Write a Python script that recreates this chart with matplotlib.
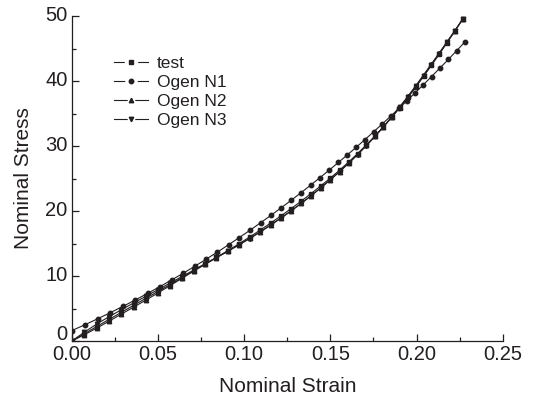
import matplotlib
matplotlib.use("Agg")
import matplotlib.pyplot as plt
import matplotlib.transforms as mtransforms
from matplotlib.lines import Line2D
from matplotlib.ticker import MultipleLocator, FormatStrFormatter

plt.rcParams['font.family'] = ['Liberation Sans', 'DejaVu Sans']

ink = '#231f20'

# strain / stress
strain_test = [0, 0.0072, 0.0144, 0.0216, 0.0288, 0.0359, 0.0430, 0.0500, 0.0569, 0.0638,
               0.0706, 0.0773, 0.0839, 0.0904, 0.0968, 0.1031, 0.1093, 0.1154, 0.1214, 0.1273,
               0.1331, 0.1388, 0.1444, 0.1499, 0.1553, 0.1606, 0.1658, 0.1709, 0.1759, 0.1808,
               0.1856, 0.1903, 0.1950, 0.1996, 0.2041, 0.2086, 0.2131, 0.2176, 0.2222, 0.2268]
stress_test = [0, 1.11, 2.22, 3.32, 4.42, 5.50, 6.57, 7.63, 8.67, 9.72,
               10.77, 11.81, 12.85, 13.89, 14.93, 15.99, 17.07, 18.16, 19.26, 20.38,
               21.52, 22.68, 23.86, 25.05, 26.27, 27.54, 28.84, 30.18, 31.56, 32.96,
               34.40, 35.90, 37.47, 39.08, 40.72, 42.39, 44.10, 45.85, 47.68, 49.54]
stress_n2 = [0, 0.95, 1.98, 3.05, 4.15, 5.22, 6.30, 7.40, 8.50, 9.62,
             10.74, 11.80, 12.80, 13.78, 14.78, 15.78, 16.82, 17.88, 18.96, 20.06,
             21.20, 22.36, 23.56, 24.80, 26.06, 27.36, 28.70, 30.08, 31.50, 32.98,
             34.50, 36.06, 37.66, 39.30, 40.96, 42.62, 44.30, 46.00, 47.74, 49.50]
stress_n3 = [0, 1.35, 2.60, 3.74, 4.82, 5.86, 6.88, 7.90, 8.90, 9.90,
             10.90, 11.90, 12.86, 13.80, 14.76, 15.74, 16.76, 17.82, 18.90, 20.02,
             21.16, 22.34, 23.55, 24.78, 26.04, 27.34, 28.68, 30.06, 31.48, 32.94,
             34.44, 35.98, 37.56, 39.18, 40.84, 42.52, 44.22, 45.96, 47.74, 49.56]

strain_n1 = [0, 0.0075, 0.0150, 0.0224, 0.0297, 0.0369, 0.0440, 0.0510, 0.0579, 0.0647,
             0.0714, 0.0780, 0.0845, 0.0909, 0.0972, 0.1034, 0.1095, 0.1155, 0.1214, 0.1272,
             0.1329, 0.1385, 0.1440, 0.1494, 0.1547, 0.1599, 0.1650, 0.1701, 0.1751, 0.1800,
             0.1849, 0.1897, 0.1945, 0.1993, 0.2040, 0.2087, 0.2134, 0.2185, 0.2233, 0.2280]
stress_n1 = [1.60, 2.49, 3.42, 4.37, 5.33, 6.32, 7.33, 8.35, 9.39, 10.44,
             11.51, 12.60, 13.69, 14.80, 15.92, 17.05, 18.19, 19.33, 20.48, 21.64,
             22.80, 23.97, 25.14, 26.31, 27.48, 28.65, 29.81, 31.00, 32.19, 33.37,
             34.57, 35.77, 36.98, 38.21, 39.44, 40.69, 41.95, 43.34, 44.68, 46.00]

labels = ['test', 'Ogen N1', 'Ogen N2', 'Ogen N3']
markers = ['s', 'o', '^', 'v']
yticks = [0, 10, 20, 30, 40, 50]

fig = plt.figure(figsize=(5.36, 4.0), dpi=100)
ax = fig.add_axes([0.134, 0.1475, 0.804, 0.8125])

series = [(strain_test, stress_test), (strain_n1, stress_n1),
          (strain_test, stress_n2), (strain_test, stress_n3)]
for (x, y), m in zip(series, markers):
    ax.plot(x, y, color=ink, lw=0.8, marker=m, ms=3.2, mec=ink, mfc=ink)

ax.set_xlim(0, 0.25)
ax.set_ylim(0, 50)
ax.xaxis.set_major_locator(MultipleLocator(0.05))
ax.xaxis.set_minor_locator(MultipleLocator(0.025))
ax.set_yticks(yticks)
ax.yaxis.set_minor_locator(MultipleLocator(5))
ax.xaxis.set_major_formatter(FormatStrFormatter('%.2f'))

for s in ['top', 'right']:
    ax.spines[s].set_visible(False)
for s in ['left', 'bottom']:
    ax.spines[s].set_color(ink)
    ax.spines[s].set_linewidth(0.9)
ax.tick_params(which='both', direction='in', colors=ink, labelsize=14.5, width=0.9)
ax.tick_params(which='major', length=5, pad=3)
ax.tick_params(which='minor', length=3)

# y tick labels sit a little above their ticks in the original; the 0 a bit more
for tick, val in zip(ax.yaxis.get_major_ticks(), yticks):
    up = 6 if val == 0 else 2
    shift = mtransforms.ScaledTranslation(0, up / 72, fig.dpi_scale_trans)
    tick.label1.set_transform(tick.label1.get_transform() + shift)

ax.set_xlabel('Nominal Strain', fontsize=15, color=ink, labelpad=9)
ax.set_ylabel('Nominal Stress', fontsize=15, color=ink, labelpad=9)

handles = []
for m in markers:
    back = Line2D([], [], color=ink, lw=0.8, marker=m, ms=8, mfc='white', mec='white')
    front = Line2D([], [], ls='none', marker=m, ms=3.2, mfc=ink, mec=ink)
    handles.append((back, front))
ax.legend(handles, labels, loc='upper left', bbox_to_anchor=(0.077, 0.905),
          frameon=False, fontsize=12.5, handlelength=2.0, handletextpad=0.5,
          labelspacing=0.22, borderpad=0, labelcolor=ink)

fig.savefig('out.png', dpi=100)
